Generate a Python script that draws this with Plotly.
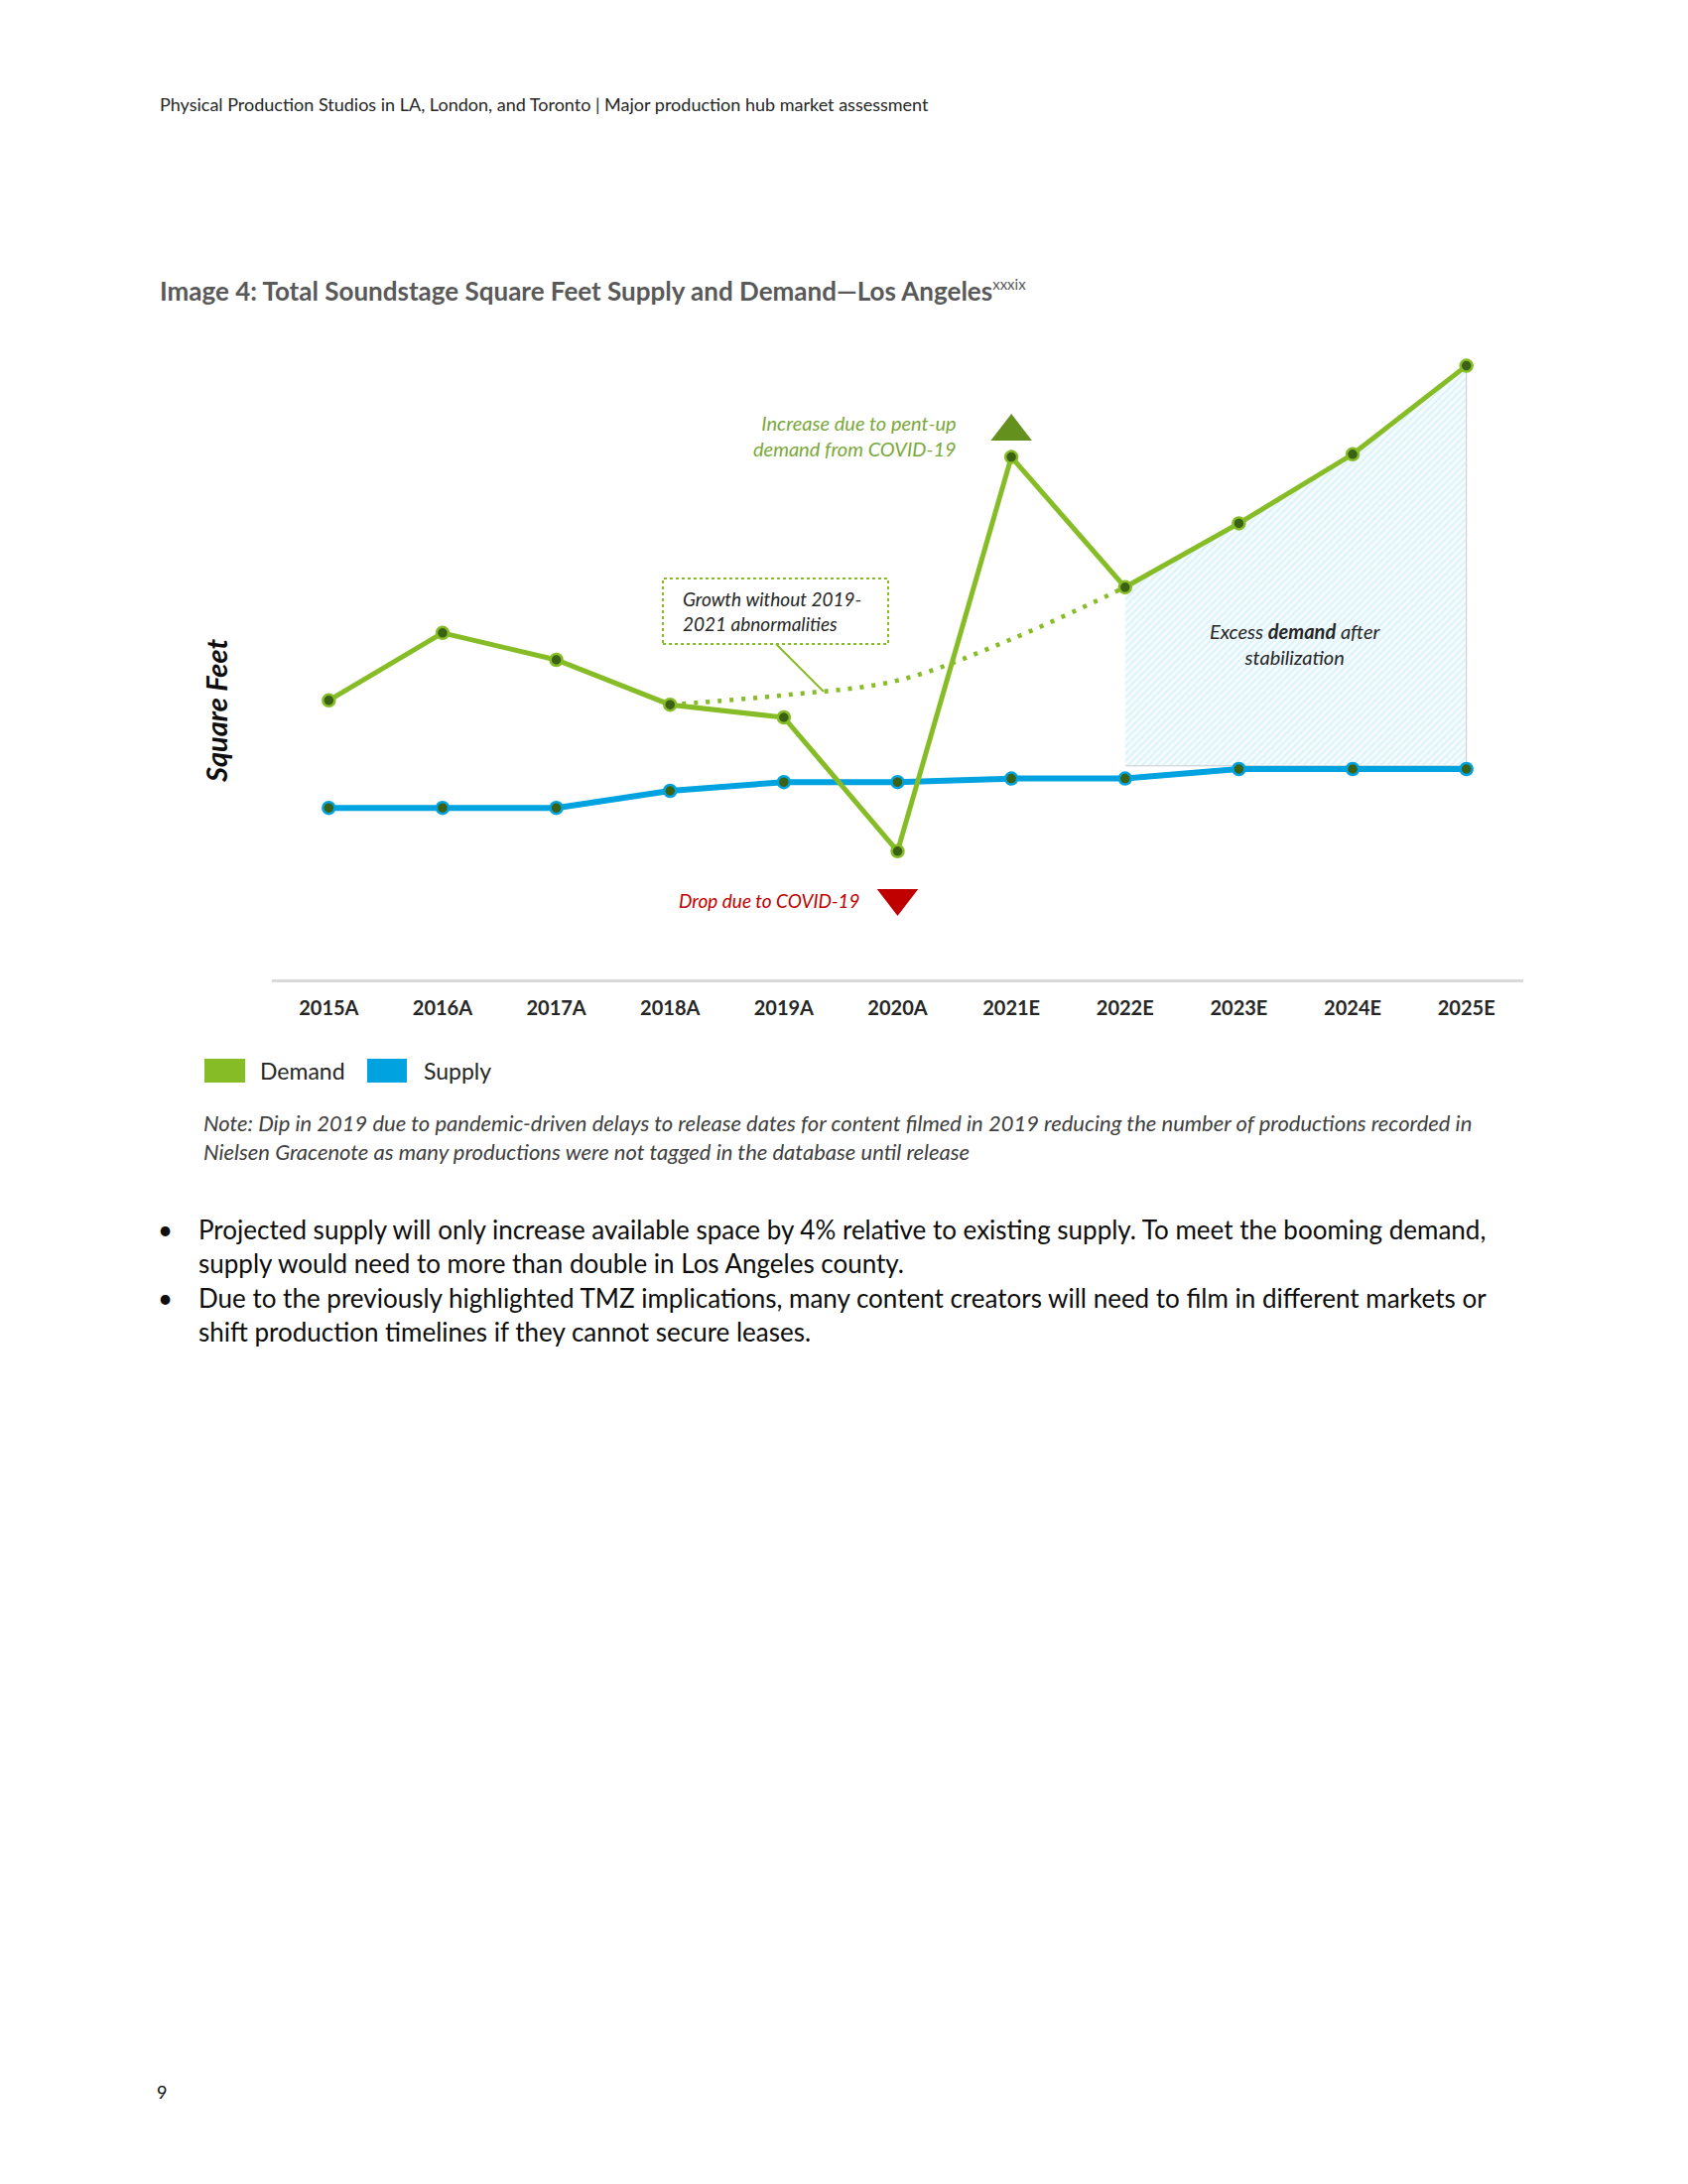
import plotly.graph_objects as go

# values in millions of square feet (no axis scale is shown)
years = ['2015A', '2016A', '2017A', '2018A', '2019A', '2020A',
         '2021E', '2022E', '2023E', '2024E', '2025E']
demand = [7.03, 8.73, 8.05, 6.92, 6.60, 3.23, 13.16, 9.88, 11.49, 13.23, 15.46]
supply = [4.32, 4.32, 4.32, 4.75, 4.97, 4.97, 5.06, 5.06, 5.30, 5.30, 5.30]
trend_years = ['2018A', '2019A', '2020A', '2021E', '2022E']
trend = [6.92, 7.16, 7.53, 8.57, 9.88]
excess_years = years[7:]
excess_top = demand[7:]
drop_year, drop_mark = '2020A', 2.05
rise_year, rise_mark = '2021E', 13.8

GREEN = '#86bc25'
BLUE = '#00a3e0'
DOT = '#3a6114'
FONT = 'Lato'

# page is 1701x2201, body margin of 8px
OFF = 8
W, H = 1701 - 2 * OFF, 2201 - 2 * OFF


def fx(px):
    return (px - OFF) / W


def fy(py):
    return 1 - (py - OFF) / H


traces = []

# hatched "excess demand" region
base = max(supply) + 0.08
traces.append(go.Scatter(x=excess_years + excess_years[::-1],
                         y=excess_top + [base] * len(excess_years),
                         mode='lines', fill='toself',
                         fillcolor='rgba(0,0,0,0)',
                         fillpattern=dict(shape='/', fgcolor='#bde9f5', bgcolor='#f6fcfe',
                                          size=5, solidity=0.4),
                         line=dict(color='#c8ccd0', width=1),
                         hoverinfo='skip', showlegend=False))

traces.append(go.Scatter(x=years, y=supply, name='Supply', mode='lines+markers',
                         line=dict(color=BLUE, width=6),
                         marker=dict(size=12, color=DOT, line=dict(color=BLUE, width=2.5)),
                         showlegend=False))

traces.append(go.Scatter(x=trend_years, y=trend, mode='lines',
                         line=dict(color=GREEN, width=4.5, dash='4px,8px', shape='spline'),
                         hoverinfo='skip', showlegend=False))

traces.append(go.Scatter(x=years, y=demand, name='Demand', mode='lines+markers',
                         line=dict(color=GREEN, width=5),
                         marker=dict(size=12, color=DOT, line=dict(color=GREEN, width=2.5)),
                         showlegend=False))

traces.append(go.Scatter(x=[drop_year], y=[drop_mark], mode='markers',
                         marker=dict(symbol='triangle-down', size=36, color='#c00000'),
                         hoverinfo='skip', showlegend=False))
traces.append(go.Scatter(x=[rise_year], y=[rise_mark], mode='markers',
                         marker=dict(symbol='triangle-up', size=36, color='#64901e'),
                         hoverinfo='skip', showlegend=False))

annotations = [
    dict(x=fx(159), y=fy(105), xanchor='left', yanchor='middle',
         text='Physical Production Studios in LA, London, and Toronto | Major production hub market assessment',
         font=dict(size=18, color='#262626')),
    dict(x=fx(159), y=fy(293), xanchor='left', yanchor='middle',
         text='<b>Image 4: Total Soundstage Square Feet Supply and Demand\u2014Los Angeles</b>'
              '<sup><span style="font-size:15px">xxxix</span></sup>',
         font=dict(size=26, color='#595959')),
    dict(x=fx(217), y=fy(717), xanchor='center', yanchor='middle', textangle=-90,
         text='<b><i>Square Feet</i></b>', font=dict(size=29, color='#0d0d0d')),
    dict(x=fx(966), y=fy(439), xanchor='right', yanchor='middle', align='right',
         text='<i>Increase due to pent-up<br>demand from COVID-19</i>',
         font=dict(size=20, color='#7aa83a')),
    dict(x=fx(869), y=fy(907), xanchor='right', yanchor='middle',
         text='<i>Drop due to COVID-19</i>', font=dict(size=19, color='#c00000')),
    dict(x=fx(686), y=fy(616), xanchor='left', yanchor='middle', align='left',
         text='<i>Growth without 2019-<br>2021 abnormalities</i>',
         font=dict(size=19, color='#262626')),
    dict(x=fx(1305), y=fy(649), xanchor='center', yanchor='middle', align='center',
         text='<i>Excess <b>demand</b> after<br>stabilization</i>',
         font=dict(size=20, color='#262626')),
    dict(x=fx(260), y=fy(1079), xanchor='left', yanchor='middle',
         text='Demand', font=dict(size=23, color='#262626')),
    dict(x=fx(425), y=fy(1079), xanchor='left', yanchor='middle',
         text='Supply', font=dict(size=23, color='#262626')),
    dict(x=fx(203), y=fy(1146), xanchor='left', yanchor='middle', align='left',
         text='<i>Note: Dip in 2019 due to pandemic-driven delays to release dates for content filmed in 2019 '
              'reducing the number of productions recorded in<br>Nielsen Gracenote as many productions were not '
              'tagged in the database until release</i>',
         font=dict(size=22, color='#404040')),
    dict(x=fx(198), y=fy(1256), xanchor='left', yanchor='middle', align='left',
         text='Projected supply will only increase available space by 4% relative to existing supply. '
              'To meet the booming demand,<br>supply would need to more than double in Los Angeles county.',
         font=dict(size=26, color='#0d0d0d')),
    dict(x=fx(198), y=fy(1325), xanchor='left', yanchor='middle', align='left',
         text='Due to the previously highlighted TMZ implications, many content creators will need to film '
              'in different markets or<br>shift production timelines if they cannot secure leases.',
         font=dict(size=26, color='#0d0d0d')),
    dict(x=fx(166), y=fy(1239), xanchor='center', yanchor='middle', text='\u2022',
         font=dict(size=26, color='#0d0d0d')),
    dict(x=fx(166), y=fy(1308), xanchor='center', yanchor='middle', text='\u2022',
         font=dict(size=26, color='#0d0d0d')),
    dict(x=fx(163), y=fy(2108), xanchor='center', yanchor='middle', text='9',
         font=dict(size=18, color='#0d0d0d')),
]
for a in annotations:
    a.update(xref='paper', yref='paper', showarrow=False)

shapes = [
    # callout box and its pointer
    dict(type='rect', xref='paper', yref='paper', x0=fx(668), x1=fx(895), y0=fy(649), y1=fy(583),
         line=dict(color=GREEN, width=2, dash='dot'), fillcolor='rgba(0,0,0,0)'),
    dict(type='line', xref='paper', yref='paper', x0=fx(782), y0=fy(649), x1=fx(830), y1=fy(697),
         line=dict(color=GREEN, width=2)),
    # legend swatches
    dict(type='rect', xref='paper', yref='paper', x0=fx(206), x1=fx(247), y0=fy(1091), y1=fy(1067),
         line=dict(width=0), fillcolor=GREEN),
    dict(type='rect', xref='paper', yref='paper', x0=fx(370), x1=fx(410), y0=fy(1091), y1=fy(1067),
         line=dict(width=0), fillcolor=BLUE),
]

layout = go.Layout(width=W, height=H,
                   margin=dict(l=0, r=0, t=0, b=0),
                   paper_bgcolor='white', plot_bgcolor='white',
                   font=dict(family=FONT, color='#262626'),
                   xaxis=dict(domain=[fx(274), fx(1535)], type='category',
                              categoryorder='array', categoryarray=years,
                              range=[-0.5, len(years) - 0.5],
                              showline=True, linecolor='#d9d9d9', linewidth=3,
                              showgrid=False, zeroline=False, ticks='',
                              tickfont=dict(family=FONT, size=20, color='#262626', weight='bold'),
                              ticklabelstandoff=9),
                   yaxis=dict(domain=[fy(987), fy(347)], range=[0, 16],
                              showline=False, showgrid=False, zeroline=False,
                              showticklabels=False, ticks=''),
                   annotations=annotations, shapes=shapes,
                   showlegend=False)

fig = go.Figure(data=traces, layout=layout)
fig.write_html("out.html")
